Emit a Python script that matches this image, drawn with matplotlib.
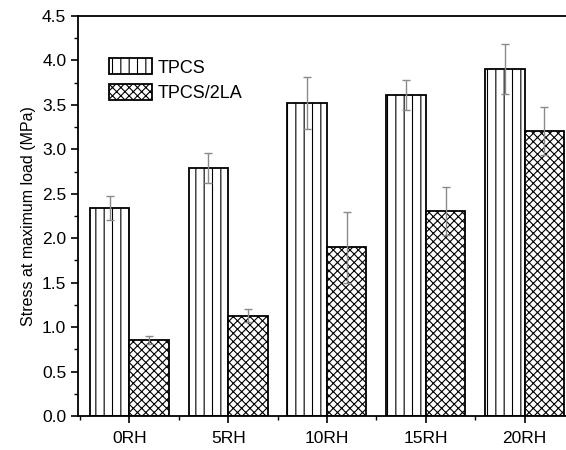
import matplotlib
matplotlib.use('Agg')
import matplotlib.pyplot as plt
import numpy as np
from matplotlib.ticker import MultipleLocator

plt.rcParams['font.family'] = ['Liberation Sans', 'DejaVu Sans']
plt.rcParams['hatch.linewidth'] = 0.8

categories = ['0RH', '5RH', '10RH', '15RH', '20RH']
tpcs = [2.34, 2.79, 3.52, 3.61, 3.90]
tpcs_err = [0.14, 0.17, 0.29, 0.17, 0.28]
tpcs2la = [0.855, 1.13, 1.90, 2.31, 3.21]
tpcs2la_err = [0.05, 0.07, 0.40, 0.27, 0.27]

fig = plt.figure(figsize=(5.66, 4.5), dpi=100)
ax = fig.add_axes([0.138, 0.0756, 0.862, 0.8888])

x = np.arange(len(categories))
w = 0.4
ekw = dict(ecolor='#8a8a8a', elinewidth=1.0, capsize=3, capthick=1.0)
ax.bar(x - w / 2, tpcs, w, yerr=tpcs_err, color='white', edgecolor='black',
       hatch='||', linewidth=1.3, error_kw=ekw, label='TPCS')
ax.bar(x + w / 2, tpcs2la, w, yerr=tpcs2la_err, color='white', edgecolor='black',
       hatch='xxxx', linewidth=1.3, error_kw=ekw, label='TPCS/2LA')

ax.set_xlim(-0.52, 4.42)
ax.set_ylim(0, 4.5)
ax.set_xticks(x)
ax.set_xticklabels(categories)
ax.xaxis.set_minor_locator(MultipleLocator(0.5))
ax.yaxis.set_major_locator(MultipleLocator(0.5))
ax.yaxis.set_minor_locator(MultipleLocator(0.25))
ax.tick_params(axis='both', which='major', direction='out', length=5, width=1.2, labelsize=12.5)
ax.tick_params(axis='x', which='major', pad=6)
ax.tick_params(axis='both', which='minor', direction='out', length=3, width=1.0)
ax.set_ylabel('Stress at maximum load (MPa)', fontsize=11.5)
ax.spines['right'].set_visible(False)
for s in ['left', 'bottom', 'top']:
    ax.spines[s].set_linewidth(1.3)

ax.legend(loc='upper left', bbox_to_anchor=(0.03, 0.935), frameon=False,
          fontsize=13, handlelength=2.4, handleheight=1.0, labelspacing=0.4,
          handletextpad=0.3)

fig.savefig('out.png', dpi=100)
